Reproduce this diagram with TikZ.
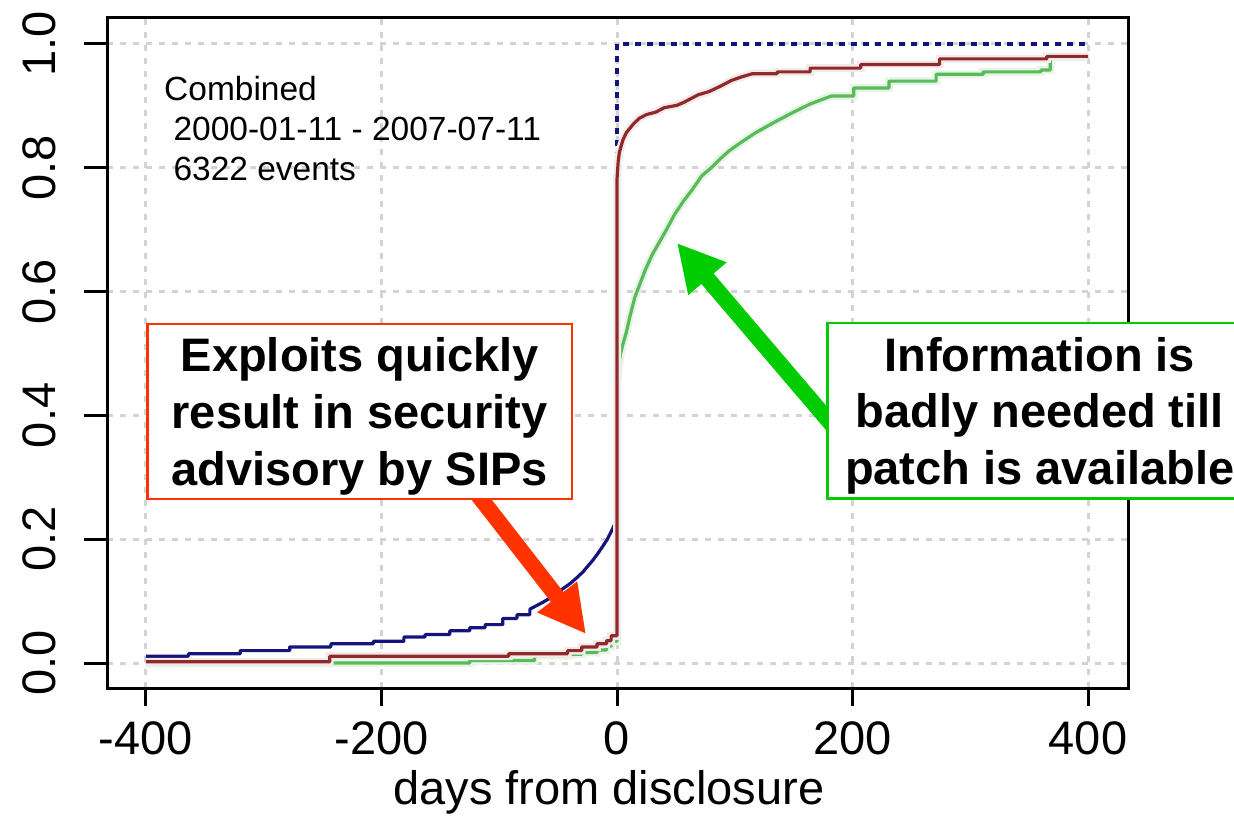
\documentclass[tikz,border=0pt]{standalone}
\usepackage{fontspec}
\setmainfont{Liberation Sans}
\usepackage{tikz}
\usetikzlibrary{arrows.meta}
\definecolor{cdfnavy}{HTML}{14147C}
\definecolor{cdfred}{HTML}{8E2A2A}
\definecolor{cdfgreen}{HTML}{58BA58}
\definecolor{gridgray}{HTML}{D3D3D3}
\definecolor{sipred}{HTML}{FF3300}
\definecolor{infogreen}{HTML}{00CC00}
\pgfdeclarelayer{notes}
\pgfsetlayers{main,notes}
% three centred lines, with struts so the frame sits where it should
\newcommand{\notelines}[3]{\rule{0pt}{48pt}#1\\#2\\#3\rule[-14pt]{0pt}{14pt}}

\begin{document}
\begin{tikzpicture}[
  x=1pt,y=-1pt,
  gridline/.style={draw=gridgray,line width=3pt,dash pattern=on 6pt off 7pt},
  curve/.style={line width=3.2pt,line join=round},
  tickmark/.style={line width=3pt},
  ticklabel/.style={inner sep=0pt,font=\fontsize{47}{56}\selectfont},
  legendtext/.style={inner sep=0pt,anchor=north west,align=left,font=\fontsize{33.5}{40.2}\selectfont},
  note/.style={fill=white,line width=2.2pt,inner sep=0pt,minimum width=424.5pt,align=center,font=\fontsize{47}{56.7}\selectfont\bfseries},
  bigarrow/.style={line width=16pt,-{Triangle[length=47pt,width=47pt]}}
]
  \useasboundingbox (0,0) rectangle (1234,816);
  \clip (0,0) rectangle (1234,816);

  % plot area: days on x, cumulative share on y
  \begin{scope}[shift={(617,663)},x=1.1775pt,y=619pt]
    \foreach \xv in {-400,-200,0,200,400}
      \draw[gridline] (\xv,-0.041) -- (\xv,1.042);
    \foreach \yv in {0,0.2,0.4,0.6,0.8,1}
      \draw[gridline] (-433,\yv) -- (434,\yv);

    % exploit
    \draw[curve,cdfnavy] (-400,0.011) -| (-364,0.015) -| (-320,0.020) -| (-278,0.026) -| (-243,0.031) -| (-207,0.035)
      -| (-181,0.042) -| (-163,0.046) -| (-142,0.052) -| (-125,0.057) -| (-112,0.062) -| (-97,0.072) -| (-85,0.078)
      -| (-74,0.087) -- (-63,0.098) -- (-55,0.107) -- (-46,0.120) -- (-40,0.128) -- (-34,0.138) -- (-29,0.147)
      -- (-25,0.156) -- (-21,0.165) -- (-17,0.175) -- (-13,0.186) -- (-8.5,0.199) -- (-5,0.212) -- (-2,0.224) -- (0,0.234);
    \draw[curve,cdfnavy,dash pattern=on 6pt off 6pt] (0,0.234) -- (0,1) -- (400,1);

    % patch
    \draw[curve,cdfgreen,preaction={draw=cdfgreen!15,line width=8pt}] (-400,0) -| (-125,0.004) -| (-70,0.012)
      -| (-42,0.014) -| (-30,0.017) -| (-17,0.021) -| (-9,0.027) -| (-5,0.035) -| (0,0.047) -- (0,0.45)
      -- (1.5,0.48) -- (3,0.50) -- (5,0.515) -- (8,0.535) -- (11,0.56) -- (15,0.59) -- (19,0.61) -- (24,0.635)
      -- (30,0.66) -- (36,0.68) -- (42,0.70) -- (49,0.725) -- (56,0.745) -- (64,0.765) -- (72,0.787) -- (80,0.80)
      -- (88,0.815) -- (95,0.827) -- (103,0.838) -- (118,0.857) -- (134,0.874) -- (150,0.89) -- (164,0.903)
      -- (182,0.916) -| (201,0.929) -| (231,0.94) -| (271,0.951) -| (311,0.955) -| (360,0.958) -| (368,0.979) -- (400,0.979);

    % advisory
    \draw[curve,cdfred,preaction={draw=cdfred!10,line width=8pt}] (-400,0.002) -| (-244,0.011) -| (-92,0.015)
      -| (-42,0.020) -| (-30,0.026) -| (-17,0.031) -| (-9,0.036) -| (-5,0.044) -| (0,0.056) -- (0,0.782)
      -- (1,0.81) -- (2,0.825) -- (5,0.845) -- (8,0.857) -- (14,0.871) -- (19,0.880) -- (25,0.886) -- (33,0.890)
      -- (40,0.897) -- (51,0.901) -- (57,0.906) -- (69,0.918) -- (78,0.923) -- (88,0.932) -- (97,0.941) -- (106,0.947)
      -- (115,0.952) -| (136,0.955) -| (164,0.961) -| (207,0.967) -| (274,0.976) -| (365,0.980) -- (400,0.980);

    \draw[line width=3pt] (-433,-0.041) rectangle (434,1.042);
    \foreach \xv in {-400,-200,0,200,400}
      \draw[tickmark] (\xv,-0.041) -- ++(0pt,-18pt);
    \foreach \yv in {0,0.2,0.4,0.6,0.8,1}
      \draw[tickmark] (-433,\yv) -- ++(-23pt,0pt);
  \end{scope}

  % axis labels
  \foreach \xv in {-400,-200,0,200,400}
    \node[ticklabel,anchor=base] (xlab\xv) at ({617+1.1775*\xv},754) {\xv};
  \foreach \yv in {0.0,0.2,0.4,0.6,0.8,1.0}
    \node[ticklabel,rotate=90,anchor=base] (ylab\yv) at (55,{663-619*\yv}) {\yv};
  \node[ticklabel,anchor=base] (xtitle) at (609,804) {days from disclosure};

  \node[legendtext] (period) at (164,76)
    {Combined\\\hspace*{9.3pt}2000-01-11 - 2007-07-11\\\hspace*{9.3pt}6322 events};

  % callouts sit above their arrows
  \begin{pgfonlayer}{notes}
    \node[note,draw=sipred] (sipbox) at (359.7,411.3)
      {\notelines{Exploits quickly}{result in security}{advisory by SIPs}};
    \node[note,draw=infogreen] (infobox) at (1039.7,410.7)
      {\notelines{Information is}{badly needed till}{patch is available}};
  \end{pgfonlayer}

  \coordinate (siptip) at (586,634);
  \coordinate (infotip) at (677,243);
  \draw[bigarrow,sipred,shorten <=-20pt] (sipbox.-36) -- (siptip);
  \draw[bigarrow,infogreen,shorten <=-20pt] (infobox.182.5) -- (infotip);
\end{tikzpicture}
\end{document}
